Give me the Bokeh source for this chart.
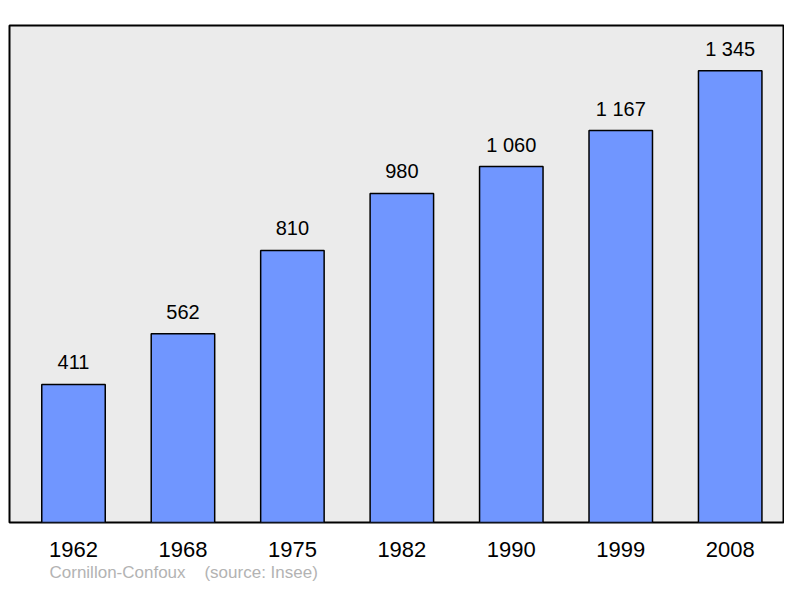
from bokeh.plotting import figure
from bokeh.models import ColumnDataSource, FixedTicker, Range1d, Title
from bokeh.core.properties import value
from bokeh.embed import file_html
from bokeh.resources import INLINE

years = ["1962", "1968", "1975", "1982", "1990", "1999", "2008"]
population = [411, 562, 810, 980, 1060, 1167, 1345]
value_labels = ["411", "562", "810", "980", "1 060", "1 167", "1 345"]
commune = "Cornillon-Confoux"
source_text = "(source: Insee)"

FONT = "Liberation Sans"

xs = list(range(len(years)))
src = ColumnDataSource(dict(x=xs, top=population, lab=value_labels))

p = figure(width=784, height=582, output_backend="svg", toolbar_location=None,
           x_range=Range1d(-0.5848, 6.487), y_range=Range1d(0, 1480),
           min_border_left=9, min_border_right=1, min_border_top=25, min_border_bottom=57)
p.background_fill_color = "#ebebeb"
p.border_fill_color = "white"
p.outline_line_color = "black"
p.outline_line_width = 2
p.grid.visible = False
p.yaxis.visible = False

p.vbar(x="x", top="top", bottom=0, width=0.58, source=src,
       fill_color="#7096ff", line_color="black", line_width=1.5)
p.text(x="x", y="top", text="lab", source=src, y_offset=-22,
       text_align="center", text_baseline="middle",
       text_font=value(FONT), text_font_size="20px", text_color="black")

ax = p.xaxis[0]
ax.ticker = FixedTicker(ticks=xs)
ax.major_label_overrides = {i: y for i, y in zip(xs, years)}
ax.axis_line_color = None
ax.major_tick_line_color = None
ax.minor_tick_line_color = None
ax.major_label_text_font = FONT
ax.major_label_text_font_size = "22px"
ax.major_label_text_color = "black"
ax.major_label_standoff = 13

p.add_layout(Title(text=commune + "\u00a0\u00a0\u00a0\u00a0" + source_text,
                   align="left", offset=40, standoff=2,
                   text_font=FONT, text_font_size="17px", text_font_style="normal",
                   text_color="#b3b3b3"), "below")

open("out.html", "w").write(file_html(p, INLINE))
